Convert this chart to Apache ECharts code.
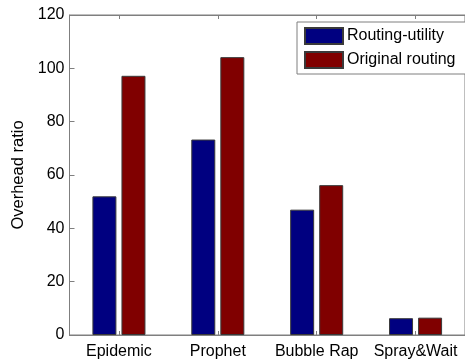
<!DOCTYPE html>
<html>
<head>
<meta charset="utf-8">
<script src="https://cdn.jsdelivr.net/npm/echarts@6/dist/echarts.min.js"></script>
<style>
  html, body { margin: 0; padding: 0; background: #fff; }
  #chart { width: 465px; height: 360px; }
</style>
</head>
<body>
<div id="chart"></div>
<script>
// Overhead ratio per routing protocol
const categories = ['Epidemic', 'Prophet', 'Bubble Rap', 'Spray&Wait'];
const routingUtility = [52, 73.3, 47, 6.3];
const originalRouting = [97.2, 104.2, 56.2, 6.5];
const yTicks = [0, 20, 40, 60, 80, 100, 120];

const font = 'Liberation Sans, Arial, sans-serif';
const axisGray = '#7f7f7f';

const chart = echarts.init(document.getElementById('chart'), null, { renderer: 'canvas' });

chart.setOption({
  animation: false,
  backgroundColor: '#ffffff',
  grid: {
    left: 69.5, top: 15, width: 402, height: 321.5,
    show: true, borderColor: axisGray, borderWidth: 1, backgroundColor: 'transparent'
  },
  legend: {
    orient: 'vertical',
    left: 297, top: 22,
    padding: [5, 17, 5, 7],
    itemGap: 6,
    itemWidth: 38, itemHeight: 16,
    icon: 'rect',
    backgroundColor: '#ffffff',
    borderColor: axisGray, borderWidth: 1,
    textStyle: { fontFamily: font, fontSize: 16, color: '#000', padding: [0, 0, 0, -1] },
    data: ['Routing-utility', 'Original routing']
  },
  xAxis: [{
    type: 'category',
    data: categories,
    position: 'bottom',
    axisLine: { show: true, lineStyle: { color: axisGray, width: 1 } },
    axisTick: { show: true, inside: true, length: 4, alignWithLabel: true, lineStyle: { color: axisGray } },
    axisLabel: { interval: 0, fontFamily: font, fontSize: 16, color: '#000', margin: 9 },
    splitLine: { show: false }
  }, {
    type: 'category',
    data: categories,
    position: 'top',
    axisLine: { show: true, lineStyle: { color: axisGray, width: 1 } },
    axisTick: { show: true, inside: true, length: 4, alignWithLabel: true, lineStyle: { color: axisGray } },
    axisLabel: { show: false },
    splitLine: { show: false }
  }],
  yAxis: {
    type: 'value',
    min: yTicks[0], max: yTicks[yTicks.length - 1], interval: 20,
    name: 'Overhead ratio',
    nameLocation: 'middle',
    nameGap: 35,
    nameTextStyle: { fontFamily: font, fontSize: 16.5, color: '#000' },
    axisLine: { show: true, lineStyle: { color: axisGray, width: 1 } },
    axisTick: { show: true, inside: true, length: 5, lineStyle: { color: axisGray } },
    axisLabel: { fontFamily: font, fontSize: 16, color: '#000', margin: 5 },
    splitLine: { show: false }
  },
  series: [{
    name: 'Routing-utility',
    type: 'bar',
    data: routingUtility,
    barWidth: 24,
    barGap: '21%',
    itemStyle: { color: '#000080', borderColor: '#3a3a3a', borderWidth: 1 }
  }, {
    name: 'Original routing',
    type: 'bar',
    data: originalRouting,
    barWidth: 24,
    barGap: '21%',
    itemStyle: { color: '#800000', borderColor: '#3a3a3a', borderWidth: 1 }
  }]
});
</script>
</body>
</html>
